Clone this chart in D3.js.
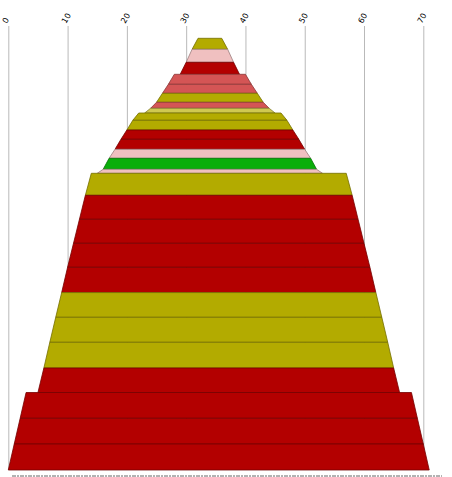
<!DOCTYPE html>
<html>
<head>
<meta charset="utf-8">
<script src="https://cdn.jsdelivr.net/npm/d3@7"></script>
<style>
  body { margin: 0; background: #fff; }
  #chart text { font-family: "DejaVu Sans", sans-serif; }
</style>
</head>
<body>
<div id="chart"></div>
<script>
// tick values along the top
const tickValues = [0, 10, 20, 30, 40, 50, 60, 70];

// layers from top to bottom: edges at the top of each layer, thickness, type
const leftEdge  = [32, 31, 30, 28, 27, 26, 25, 24, 22, 21, 20, 19, 18, 17, 16, 14, 13, 12, 11, 10, 9, 8, 7, 6, 3, 2, 1];
const rightEdge = [36, 37, 38, 40, 41, 42, 43, 44, 46, 47, 48, 49, 50, 51, 52, 57, 58, 59, 60, 61, 62, 63, 64, 65, 68, 69, 70];
const thickness = [11, 13, 12, 10, 9, 9, 6, 4.7, 7.3, 9.7, 9.3, 10, 9, 11, 4, 22, 24, 24, 24, 25.3, 24.7, 25, 25.7, 24.5, 25.8, 25.7, 26];
const layerType = ['olive', 'pink', 'red', 'rose', 'rose', 'olive', 'rose', 'khaki', 'olive', 'olive',
                   'red', 'red', 'pink', 'green', 'pink', 'olive', 'red', 'red', 'red', 'red',
                   'olive', 'olive', 'olive', 'red', 'red', 'red', 'red'];
// each layer widens by this much on both sides from top to bottom
const flare = 1;

const palette = {
  olive: '#b3ab00',
  red:   '#b30000',
  pink:  '#f0c0c0',
  rose:  '#d45555',
  khaki: '#cfc850',
  green: '#0aae0a'
};

const width = 452, height = 477;

const svg = d3.select('#chart')
  .append('svg')
    .attr('width', width)
    .attr('height', height);

// build layer table
let depth = 0;
const layers = thickness.map((t, i) => {
  const d = {
    top: depth, bottom: depth + t,
    l: leftEdge[i], r: rightEdge[i],
    type: layerType[i]
  };
  depth += t;
  return d;
});

const x = d3.scaleLinear()
  .domain([0, 70])
  .range([8.3, 423.3]);

const y = d3.scaleLinear()
  .domain([0, depth])
  .range([38.3, 470]);

// grid + labels on top
const axis = svg.append('g')
  .attr('transform', 'translate(0, 26)')
  .call(d3.axisTop(x).tickValues(tickValues).tickSize(-(470 - 26)).tickPadding(0));
axis.select('.domain').remove();
axis.selectAll('.tick line')
  .attr('stroke', '#b9b9b9')
  .attr('stroke-width', 1);
axis.selectAll('.tick text')
  .attr('fill', '#000')
  .style('font-size', '8px')
  .attr('text-anchor', 'start')
  .attr('y', 0)
  .attr('dy', 0)
  .attr('transform', 'translate(-2, -2) rotate(-60)');

// layers
svg.append('g')
  .selectAll('path')
  .data(layers)
  .join('path')
    .attr('d', d => {
      const pts = [
        [x(d.l), y(d.top)],
        [x(d.r), y(d.top)],
        [x(d.r + flare), y(d.bottom)],
        [x(d.l - flare), y(d.bottom)]
      ];
      return 'M' + pts.join('L') + 'Z';
    })
    .attr('fill', d => palette[d.type])
    .attr('stroke', d => d3.color(palette[d.type]).darker(1.2))
    .attr('stroke-width', 0.8);

// faint dotted strip along the bottom edge
svg.append('line')
  .attr('x1', 12).attr('x2', 442)
  .attr('y1', 476).attr('y2', 476)
  .attr('stroke', '#666')
  .attr('stroke-width', 1)
  .attr('stroke-dasharray', '4,1,2,1');
</script>
</body>
</html>
